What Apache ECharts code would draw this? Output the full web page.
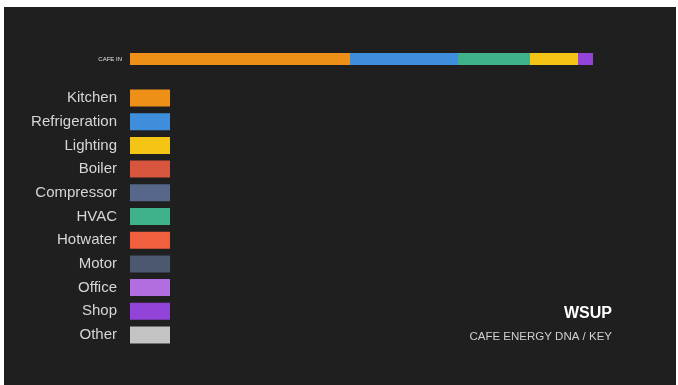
<!DOCTYPE html>
<html>
<head>
<meta charset="utf-8">
<script src="https://cdn.jsdelivr.net/npm/echarts@6/dist/echarts.min.js"></script>
<style>
  html, body { margin: 0; padding: 0; background: #fff; }
  #main { width: 678px; height: 385px; }
</style>
</head>
<body>
<div id="main"></div>
<script>
// legend order (top to bottom)
var categories = ["Kitchen", "Refrigeration", "Lighting", "Boiler", "Compressor", "HVAC",
  "Hotwater", "Motor", "Office", "Shop", "Other"];
var colors = ["#ee9018", "#3e8edb", "#f4c514", "#d8553e", "#56678a", "#3fb18b",
  "#f0603e", "#4b5870", "#b26ee0", "#9244d8", "#c4c4c4"];
// stacked order along the bar, with widths
var barOrder = ["Kitchen", "Refrigeration", "HVAC", "Lighting", "Shop",
  "Boiler", "Compressor", "Hotwater", "Motor", "Office", "Other"];
var cafeIn = [220, 108, 72, 48, 15, 0, 0, 0, 0, 0, 0];
var rowLabel = ["CAFE IN"];

var chartDom = document.getElementById("main");
var myChart = echarts.init(chartDom);
var option;

var total = cafeIn.reduce(function (a, b) { return a + b; }, 0);

var series = barOrder.map(function (name, i) {
  return {
    name: name,
    type: "bar",
    stack: "energy",
    barWidth: 12,
    itemStyle: { color: colors[categories.indexOf(name)] },
    data: [cafeIn[i]]
  };
});

var legends = categories.map(function (name, i) {
  return {
    orient: "vertical",
    right: 508,
    top: 89.5 + i * 23.7,
    padding: 0,
    align: "right",
    icon: "rect",
    itemWidth: 40,
    itemHeight: 17,
    selectedMode: false,
    data: [name],
    textStyle: {
      color: "#d6d6d6",
      fontSize: 15,
      fontFamily: "Liberation Sans",
      padding: [2, 8, 0, 0]
    }
  };
});

option = {
  backgroundColor: "#ffffff",
  animation: false,
  graphic: [
    {
      type: "rect",
      z: -10,
      shape: { x: 4, y: 7, width: 672, height: 378 },
      style: { fill: "#1f1f1f" }
    }
  ],
  title: {
    text: "WSUP",
    subtext: "CAFE ENERGY DNA / KEY",
    left: 612,
    top: 306,
    padding: 0,
    itemGap: 9,
    textAlign: "right",
    textStyle: { color: "#ffffff", fontSize: 16, fontWeight: "bold", fontFamily: "Liberation Sans" },
    subtextStyle: { color: "#d0d0d0", fontSize: 11.5, fontFamily: "Liberation Sans" }
  },
  legend: legends,
  grid: { left: 130, right: 85, top: 50, height: 18 },
  xAxis: { type: "value", min: 0, max: total, show: false },
  yAxis: {
    type: "category",
    data: rowLabel,
    axisLine: { show: false },
    axisTick: { show: false },
    axisLabel: { color: "#e0e0e0", fontSize: 6, margin: 8, fontFamily: "Liberation Sans" }
  },
  series: series
};

option && myChart.setOption(option);
</script>
</body>
</html>
